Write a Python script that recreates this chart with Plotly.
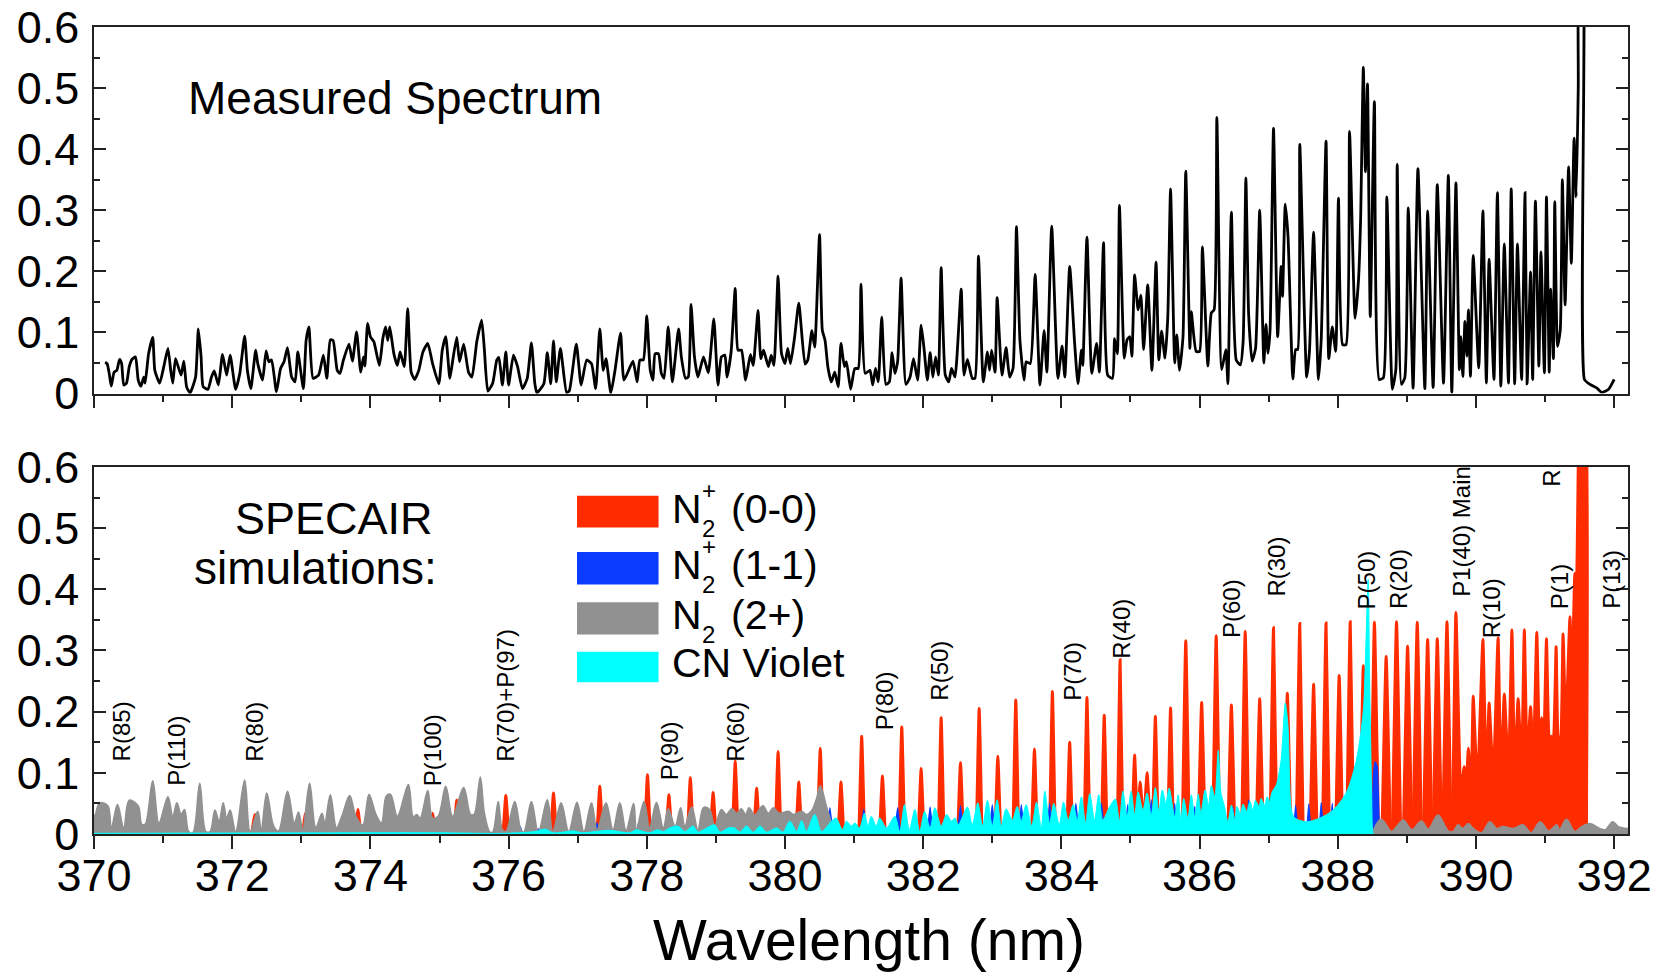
import plotly.graph_objects as go

# (wavelength nm, intensity)
measured = [(370.16,.051),(370.19,.049),(370.22,.033),(370.25,.012),(370.29,.035),(370.33,.038),(370.37,.056),(370.40,.049),(370.43,.014),(370.47,.017),(370.51,.044),(370.55,.056),(370.60,.060),(370.64,.022),(370.68,.012),(370.72,.027),(370.74,.017),(370.79,.065),(370.85,.092),(370.88,.038),(370.95,.017),
(371.01,.044),(371.07,.074),(371.11,.038),(371.14,.017),(371.18,.057),(371.26,.030),(371.30,.053),(371.34,.011),(371.39,.001),(371.47,.027),(371.51,.106),(371.55,.060),(371.58,.011),(371.65,.007),(371.70,.027),(371.74,.037),(371.80,.014),(371.86,.064),(371.92,.030),(371.97,.063),
(372.05,.007),(372.11,.033),(372.18,.094),(372.22,.038),(372.27,.008),(372.34,.071),(372.37,.049),(372.44,.022),(372.49,.070),(372.53,.052),(372.57,.055),(372.64,.003),(372.70,.041),(372.75,.052),(372.80,.075),(372.86,.027),(372.91,.019),(372.95,.068),
(373.03,.008),(373.07,.087),(373.11,.109),(373.17,.025),(373.25,.030),(373.32,.063),(373.37,.025),(373.42,.088),(373.46,.087),(373.52,.038),(373.56,.033),(373.61,.055),(373.69,.081),(373.74,.053),(373.80,.101),(373.86,.035),(373.90,.060),(373.92,.045),(373.96,.115),
(374.00,.093),(374.05,.085),(374.13,.046),(374.18,.090),(374.22,.109),(374.25,.087),(374.28,.109),(374.34,.065),(374.39,.046),(374.43,.068),(374.49,.044),(374.54,.139),(374.59,.035),(374.64,.023),(374.70,.038),(374.76,.068),(374.83,.082),(374.90,.049),(374.99,.016),
(375.04,.071),(375.09,.093),(375.15,.025),(375.19,.053),(375.25,.092),(375.29,.052),(375.35,.081),(375.42,.035),(375.47,.027),(375.54,.085),(375.61,.120),(375.65,.071),(375.70,.004),(375.77,.017),(375.83,.055),(375.86,.059),(375.91,.014),(375.96,.068),
(376.00,.014),(376.07,.063),(376.13,.044),(376.20,.008),(376.27,.025),(376.33,.083),(376.38,.016),(376.41,.001),(376.51,.016),(376.56,.067),(376.61,.016),(376.65,.086),(376.69,.019),(376.75,.074),(376.84,.001),(376.88,.005),(376.98,.081),
(377.05,.014),(377.13,.055),(377.20,.049),(377.26,.008),(377.32,.106),(377.37,.038),(377.41,.057),(377.48,.001),(377.54,.038),(377.62,.099),(377.67,.022),(377.80,.053),(377.86,.019),(377.90,.055),(377.95,.055),
(378.00,.127),(378.05,.038),(378.09,.022),(378.12,.065),(378.17,.065),(378.21,.033),(378.25,.025),(378.31,.109),(378.37,.019),(378.46,.106),(378.50,.060),(378.56,.025),(378.60,.027),(378.64,.146),(378.69,.060),(378.74,.027),(378.82,.060),(378.89,.034),(378.97,.122),
(379.03,.014),(379.08,.060),(379.13,.063),(379.16,.027),(379.22,.068),(379.28,.172),(379.32,.071),(379.37,.071),(379.43,.022),(379.50,.064),(379.54,.046),(379.61,.136),(379.65,.057),(379.69,.071),(379.76,.044),(379.80,.063),(379.84,.046),(379.90,.192),(379.95,.065),
(380.00,.049),(380.04,.074),(380.08,.049),(380.14,.093),(380.20,.148),(380.29,.048),(380.33,.055),(380.39,.103),(380.43,.076),(380.50,.260),(380.54,.104),(380.58,.087),(380.62,.044),(380.67,.019),(380.72,.035),(380.77,.011),(380.81,.082),(380.86,.044),(380.89,.052),(380.95,.007),
(381.01,.041),(381.06,.041),(381.10,.179),(381.16,.033),(381.23,.038),(381.27,.014),(381.31,.041),(381.35,.019),(381.40,.125),(381.46,.015),(381.51,.019),(381.55,.067),(381.59,.033),(381.63,.052),(381.68,.189),(381.75,.015),(381.81,.027),(381.86,.057),(381.92,.022),(381.97,.112),
(382.01,.076),(382.06,.022),(382.10,.067),(382.14,.027),(382.18,.060),(382.22,.030),(382.26,.206),(382.32,.030),(382.37,.019),(382.41,.041),(382.46,.027),(382.55,.171),(382.59,.030),(382.64,.056),(382.71,.025),(382.75,.025),(382.80,.225),(382.87,.019),(382.93,.068),(382.96,.038),(382.99,.071),
(383.04,.035),(383.07,.157),(383.14,.030),(383.20,.075),(383.25,.027),(383.30,.041),(383.35,.273),(383.40,.087),(383.46,.022),(383.49,.052),(383.55,.049),(383.62,.195),(383.69,.014),(383.75,.103),(383.79,.035),(383.86,.274),(383.95,.025),
(384.01,.078),(384.05,.027),(384.12,.208),(384.19,.085),(384.24,.016),(384.29,.071),(384.31,.046),(384.37,.256),(384.44,.033),(384.51,.082),(384.55,.035),(384.61,.247),(384.67,.030),(384.74,.025),(384.77,.090),(384.81,.065),(384.84,.308),(384.91,.058),(384.95,.088),(384.99,.093),
(385.02,.061),(385.06,.194),(385.11,.137),(385.15,.161),(385.19,.072),(385.25,.178),(385.31,.038),(385.37,.215),(385.41,.055),(385.45,.102),(385.50,.058),(385.54,.126),(385.58,.335),(385.64,.050),(385.67,.096),(385.71,.038),(385.76,.093),(385.80,.364),(385.86,.074),(385.88,.134),(385.95,.069),
(386.00,.069),(386.04,.240),(386.12,.045),(386.17,.132),(386.21,.137),(386.25,.452),(386.32,.039),(386.38,.072),(386.41,.016),(386.46,.297),(386.53,.055),(386.59,.047),(386.63,.085),(386.67,.353),(386.71,.129),(386.76,.053),(386.81,.074),(386.87,.300),(386.93,.050),(386.96,.113),(386.99,.066),
(387.02,.104),(387.07,.434),(387.13,.093),(387.18,.208),(387.20,.159),(387.24,.310),(387.28,.257),(387.35,.024),(387.39,.072),(387.42,.072),(387.45,.408),(387.55,.027),(387.59,.069),(387.65,.264),(387.72,.023),(387.76,.088),(387.83,.413),(387.87,.057),(387.92,.109),(387.97,.069),
(388.01,.320),(388.07,.080),(388.12,.080),(388.17,.429),(388.25,.123),(388.30,.186),(388.33,.284),(388.37,.534),(388.40,.363),(388.43,.507),(388.47,.126),(388.53,.478),(388.60,.023),(388.66,.026),(388.71,.322),(388.79,.007),(388.84,.039),(388.86,.375),(388.92,.015),(388.97,.026),
(389.02,.304),(389.09,.009),(389.16,.368),(389.26,.008),(389.30,.299),(389.38,.010),(389.44,.342),(389.53,.017),(389.60,.357),(389.65,.002),(389.71,.345),(389.76,.039),(389.78,.093),(389.81,.028),(389.84,.118),(389.87,.061),(389.89,.137),(389.92,.028),(389.96,.226),
(390.04,.042),(390.10,.299),(390.15,.017),(390.19,.220),(390.26,.023),(390.31,.329),(390.36,.012),(390.41,.245),(390.47,.017),(390.51,.335),(390.56,.016),(390.60,.245),(390.66,.023),(390.71,.329),(390.74,.016),(390.79,.199),(390.82,.023),(390.86,.315),(390.91,.045),(390.94,.232),(390.99,.034),
(391.02,.322),(391.06,.035),(391.08,.171),(391.12,.057),(391.14,.314),(391.18,.077),(391.22,.104),(391.25,.350),(391.29,.145),(391.34,.371),(391.38,.213),(391.42,.418),(391.45,.322),(391.48,.501),(391.50,.72),(391.54,.72),(391.57,.023),(391.65,.015),(391.75,.009),(391.82,.002),(391.92,.007),(392.00,.023)]

n2p_00 = [(372.28,0),(372.33,.032),(372.37,0),(373.02,0),(373.06,.034),(373.10,0),(373.78,0),(373.82,.04),(373.86,0),(374.86,0),(374.90,.034),(374.94,0),(375.21,0),(375.25,.055),(375.29,0),(375.92,0),(375.96,.063),(376.00,0),(376.61,0),(376.65,.067),(376.69,0),(377.28,0),(377.32,.078),(377.36,0),
(377.97,0),(378.01,.097),(378.05,0),(378.28,0),(378.32,.064),(378.36,0),(378.59,0),(378.63,.092),(378.67,0),(378.92,0),(378.96,.068),(379.00,0),(379.24,0),(379.28,.119),(379.32,0),(379.55,0),(379.59,.075),(379.63,0),(379.86,0),(379.90,.135),(379.94,0),(380.16,0),(380.20,.085),(380.24,0),(380.47,0),(380.51,.14),(380.55,0),(380.77,0),(380.81,.085),(380.85,0),
(381.07,0),(381.11,.16),(381.15,0),(381.37,0),(381.41,.095),(381.45,0),(381.65,0),(381.69,.175),(381.73,0),(381.93,0),(381.97,.107),(382.01,0),(382.22,0),(382.26,.19),(382.30,0),(382.50,0),(382.54,.117),(382.58,0),(382.77,0),(382.81,.205),(382.85,0),(383.04,0),(383.08,.127),(383.12,0),(383.30,0),(383.34,.219),(383.38,0),(383.57,0),(383.61,.139),(383.65,0),(383.83,0),(383.87,.233),(383.91,0),(384.08,0),(384.12,.15),(384.16,0),(384.33,0),(384.37,.223),(384.41,0),(384.58,0),(384.62,.194),(384.66,0),(384.81,0),(384.85,.285),(384.89,0),
(385.02,0),(385.06,.129),(385.10,.02),(385.14,.085),(385.19,.02),(385.24,.10),(385.29,0),(385.32,0),(385.36,.192),(385.40,0),(385.54,0),(385.58,.206),(385.62,0),(385.75,0),(385.80,.316),(385.85,0),(385.98,0),(386.03,.215),(386.08,0),(386.19,0),(386.24,.324),(386.29,0),(386.41,0),(386.46,.211),(386.51,0),(386.61,0),(386.66,.331),(386.71,0),(386.82,0),(386.87,.221),(386.92,0),(387.02,0),(387.07,.337),(387.12,0),(387.22,0),(387.27,.23),(387.32,0),(387.40,0),(387.45,.344),(387.50,0),(387.60,0),(387.65,.245),(387.70,0),(387.78,0),(387.83,.345),(387.88,0),(387.97,0),(388.02,.259),(388.07,0),(388.13,0),(388.18,.347),(388.23,0),(388.32,0),(388.37,.275),(388.42,0),(388.48,0),(388.53,.346),(388.59,0),(388.64,0),(388.70,.29),(388.76,0),(388.79,0),(388.85,.347),(388.91,0),(388.95,0),(389.01,.307),(389.07,0),(389.09,0),(389.15,.346),(389.21,0),(389.24,0),(389.30,.318),(389.36,0),(389.38,0),(389.44,.319),(389.50,0),(389.52,0),(389.58,.347),(389.64,0),(389.66,0),
(389.71,.362),(389.78,.07),(389.83,.11),(389.86,.08),(389.89,.14),(389.93,.07),(389.96,.225),(390.02,.075),(390.10,.318),(390.15,.08),(390.19,.214),(390.25,.09),(390.32,.321),(390.36,.09),(390.41,.229),(390.47,.10),(390.52,.334),(390.56,.10),(390.61,.221),(390.66,.11),(390.70,.334),(390.74,.12),(390.79,.208),(390.83,.12),(390.88,.33),(390.92,.13),(390.95,.19),(390.98,.14),(391.02,.319),(391.06,.15),(391.09,.16),(391.12,.15),(391.16,.306),(391.19,.15),(391.21,.154),(391.23,.16),(391.26,.327),(391.30,.17),(391.36,.355),(391.39,.25),(391.43,.426),(391.45,.35),(391.48,.6),(391.50,.72),(391.57,.72),(391.60,.02),(391.61,0)]

n2p_11 = [(376.14,0),(376.17,.012),(376.20,0),(376.40,0),(376.43,.008),(376.46,0),(377.25,0),(377.28,.018),(377.31,0),(377.85,0),(377.88,.018),(377.91,0),(380.61,0),(380.65,.043),(380.69,0),(381.10,0),(381.14,.04),(381.18,0),(381.59,0),(381.63,.043),(381.67,0),(382.06,0),(382.10,.044),(382.14,0),(382.50,0),(382.54,.046),(382.58,0),(382.96,0),(383.00,.048),(383.04,0),(383.38,0),(383.42,.048),(383.46,0),(383.79,0),(383.83,.05),(383.87,0),(384.17,0),(384.21,.05),(384.25,0),(384.54,0),(384.58,.05),(384.62,0),(384.92,0),(384.96,.048),(385.00,0),(385.27,0),(385.30,.056),(385.33,0),(385.61,0),(385.64,.05),(385.67,0),(385.90,0),(385.93,.045),(385.96,0),(386.45,0),(386.48,.045),(386.51,0),(386.68,0),(386.71,.056),(386.74,0),(387.36,0),(387.39,.047),(387.42,0),(387.55,0),(387.58,.049),(387.61,0),(387.73,0),(387.76,.051),(387.79,0),(387.89,0),(387.92,.05),(387.95,0),(388.49,0),(388.52,.10),(388.54,.118),(388.57,.11),(388.60,.01),(388.62,0)]

n2_2plus = [(370.00,.03),(370.02,.032),(370.08,.051),(370.20,.046),(370.25,.010),(370.34,.048),(370.43,.010),(370.51,.055),(370.64,.046),(370.69,.016),(370.74,.016),(370.85,.087),(370.94,.018),(371.07,.061),(371.14,.029),(371.20,.051),(371.26,.032),(371.31,.040),(371.37,.004),(371.43,.002),(371.53,.083),(371.62,.004),(371.68,.004),(371.75,.039),(371.81,.021),(371.87,.051),(371.92,.026),(371.97,.039),(372.05,.004),(372.18,.088),(372.26,.004),(372.37,.037),(372.42,.007),(372.50,.067),(372.60,.013),(372.67,.005),(372.80,.070),(372.90,.018),(372.96,.036),(373.02,.007),(373.12,.083),(373.21,.011),(373.30,.034),(373.34,.018),(373.42,.064),(373.51,.010),(373.59,.030),(373.70,.063),(373.79,.029),(373.89,.015),(373.98,.065),(374.08,.032),(374.16,.018),(374.23,.062),(374.29,.065),(374.39,.029),(374.55,.081),(374.62,.028),(374.67,.032),(374.72,.026),(374.83,.071),(374.90,.026),(374.98,.029),(375.09,.078),(375.19,.029),(375.35,.076),(375.45,.032),(375.50,.032),(375.59,.093),(375.65,.034),(375.73,.003),(375.77,.003),(375.85,.053),(375.91,.007),(375.96,.004),(376.09,.053),(376.18,.006),(376.22,.003),(376.33,.053),(376.43,.003),(376.56,.056),(376.64,.004),(376.76,.051),(376.87,.004),(376.99,.052),(377.09,.004),(377.20,.051),(377.28,.007),(377.41,.051),(377.51,.007),(377.61,.051),(377.70,.006),(377.81,.050),(377.85,.007),(377.96,.053),(378.04,.010),(378.14,.052),(378.24,.010),(378.31,.041),(378.41,.013),(378.49,.043),(378.55,.013),(378.65,.044),(378.74,.007),(378.82,.043),(378.91,.040),(378.98,.013),(379.08,.040),(379.15,.032),(379.23,.041),(379.30,.034),(379.37,.041),(379.43,.032),(379.48,.043),(379.56,.031),(379.68,.046),(379.76,.034),(379.83,.043),(379.92,.034),(380.05,.037),(380.12,.032),(380.24,.037),(380.31,.032),(380.38,.037),(380.46,.059),(380.51,.079),(380.60,.045),(380.67,.018),(380.72,0),(388.51,0),(388.52,.007),(388.63,.024),(388.78,.004),(388.85,.012),(388.95,.023),(389.07,.007),(389.21,.021),(389.31,.008),(389.45,.031),(389.60,.005),(389.67,.004),(389.74,.015),(389.81,.009),(389.89,.017),(389.96,.009),(390.08,.002),(390.20,.020),(390.30,.009),(390.39,.012),(390.54,.009),(390.68,.015),(390.80,.002),(390.93,.020),(391.05,.005),(391.17,.015),(391.21,.007),(391.31,.024),(391.43,.004),(391.53,.012),(391.65,.017),(391.79,.009),(391.87,.007),(391.98,.020),(392.06,.012),(392.20,.009)]

cn_violet = [(370.0,.001),(375.0,.002),(375.9,.001),(376.38,.004),(376.53,.008),(376.64,.002),(376.95,.005),(377.05,.002),(377.46,.006),(377.75,.002),(377.85,.007),(377.95,.004),(378.04,.002),(378.16,.007),(378.24,.004),(378.33,.010),(378.45,.013),(378.55,.004),(378.67,.013),(378.74,.003),(378.82,.007),(378.98,.015),(379.06,.003),(379.18,.010),(379.27,.010),(379.35,.003),(379.44,.013),(379.54,.003),(379.64,.013),(379.73,.003),(379.88,.010),(379.97,.003),(380.07,.021),(380.17,.004),(380.24,.022),(380.31,.004),(380.43,.032),(380.53,.004),(380.67,.021),(380.74,.026),(380.83,.007),(380.89,.021),(380.96,.013),(381.01,.018),(381.08,.010),(381.15,.034),(381.20,.013),(381.25,.029),(381.32,.013),(381.37,.026),(381.47,.010),(381.59,.029),(381.66,.004),(381.73,.048),(381.80,.007),(381.88,.040),(381.95,.004),(382.02,.037),(382.10,.010),(382.17,.043),(382.26,.013),(382.34,.032),(382.41,.021),(382.46,.026),(382.51,.015),(382.64,.044),(382.71,.015),(382.79,.051),(382.86,.013),(382.93,.055),(383.00,.013),(383.07,.056),(383.13,.013),(383.20,.041),(383.29,.023),(383.36,.045),(383.42,.021),(383.49,.048),(383.57,.013),(383.64,.052),(383.71,.010),(383.76,.070),(383.83,.018),(383.89,.050),(383.97,.015),(384.03,.052),(384.10,.023),(384.17,.048),(384.23,.023),(384.29,.061),(384.35,.018),(384.41,.066),(384.48,.023),(384.54,.064),(384.60,.023),(384.70,.045),(384.78,.057),(384.84,.021),(384.89,.070),(384.95,.029),(385.01,.070),(385.06,.031),(385.11,.069),(385.18,.039),(385.24,.067),(385.30,.031),(385.36,.076),(385.41,.037),(385.46,.072),(385.51,.050),(385.56,.075),(385.64,.028),(385.69,.064),(385.73,.023),(385.77,.058),(385.83,.026),(385.88,.064),(385.93,.028),(385.98,.065),(386.02,.034),(386.08,.072),(386.13,.047),(386.17,.079),(386.22,.061),(386.27,.137),(386.31,.067),(386.36,.045),(386.41,.020),(386.46,.047),(386.51,.023),(386.54,.045),(386.59,.034),(386.63,.049),(386.68,.037),(386.73,.053),(386.77,.039),(386.81,.055),(386.86,.045),(386.89,.058),(386.94,.047),(386.98,.061),(387.01,.053),(387.05,.069),(387.11,.080),(387.18,.121),(387.24,.214),(387.28,.176),(387.33,.039),(387.38,.026),(387.55,.020),(387.74,.026),(387.93,.039),(388.12,.067),(388.27,.121),(388.37,.203),(388.40,.285),(388.44,.416),(388.46,.257),(388.49,.067),(388.50,.012),(388.51,0)]

band_names = ["(0-0)", "(1-1)", "(2+)", "CN Violet"]
band_colors = ["#FF2C00", "#0A3CFF", "#919191", "#00FFFF"]
band_widths = [3, 1.5, 1.6, 1]
band_smooth = [0.4, 0.4, 1.0, 0.8]

y_ticks = [0, .1, .2, .3, .4, .5, .6]
y_labels = ["0", "0.1", "0.2", "0.3", "0.4", "0.5", "0.6"]
x_ticks = list(range(370, 393, 2))

line_labels = ["R(85)", "P(110)", "R(80)", "P(100)", "R(70)+P(97)", "P(90)", "R(60)", "P(80)", "R(50)", "P(70)", "R(40)", "P(60)", "R(30)", "P(50)", "R(20)", "P1(40) Main", "R(10)", "P(1)", "P(13)", "R"]
label_wl = [370.39, 371.20, 372.32, 374.91, 375.96, 378.34, 379.28, 381.44, 382.24, 384.16, 384.87, 386.47, 387.11, 388.42, 388.87, 389.79, 390.23, 391.21, 391.97, 391.10]
label_v = [.117, .077, .117, .077, .117, .086, .117, .168, .216, .216, .284, .318, .387, .366, .366, .386, .318, .366, .366, .567]

FONT = "Liberation Sans"
fig = go.Figure()


def xy(pairs):
    """Split into x and y; a run along the baseline becomes a gap, so no outline is drawn there."""
    xs, ys = [], []
    for i, (a, b) in enumerate(pairs):
        if i and b == 0 and pairs[i - 1][1] == 0:
            xs.append(None)
            ys.append(None)
        xs.append(a)
        ys.append(b)
    return xs, ys


x, y = xy(measured)
fig.add_trace(go.Scatter(x=x, y=y, mode="lines", line=dict(color="black", width=2.8, shape="spline", smoothing=0.5), xaxis="x", yaxis="y", showlegend=False))
for pairs, col, nm, w, s in zip([n2p_00, n2p_11, n2_2plus, cn_violet], band_colors, band_names, band_widths, band_smooth):
    x, y = xy(pairs)
    fig.add_trace(go.Scatter(x=x, y=y, mode="lines", line=dict(color=col, width=w, shape="spline", smoothing=s), fill="tozeroy", fillcolor=col, xaxis="x2", yaxis="y2", name=nm, showlegend=False))

ax_line = dict(showline=True, linecolor="#222222", linewidth=1.6, showgrid=False, zeroline=False)
xcommon = dict(range=[370, 392.2], tickmode="array", tickvals=x_ticks, ticks="outside", ticklen=13, tickwidth=1.5, tickcolor="#222222", mirror=True,
               minor=dict(dtick=1, tick0=370, ticks="outside", ticklen=7, tickwidth=1.5, tickcolor="#222222"), **ax_line)
ycommon = dict(range=[0, .6], tickmode="array", tickvals=y_ticks, ticktext=y_labels, ticks="inside", ticklen=12, tickwidth=1.5, tickcolor="#222222", mirror="ticks",
               minor=dict(tickvals=[.05, .15, .25, .35, .45, .55], ticks="inside", ticklen=6, tickwidth=1.5, tickcolor="#222222"),
               tickfont=dict(family=FONT, size=45, color="black"), ticklabelstandoff=4, ticklabeloverflow="allow", **ax_line)

fig.update_layout(
    width=1664, height=965, margin=dict(l=86, r=44, t=19, b=139, autoexpand=False), plot_bgcolor="white", paper_bgcolor="white",
    font=dict(family=FONT, color="black"),
    xaxis=dict(domain=[0, 1], anchor="y", showticklabels=False, **xcommon),
    yaxis=dict(domain=[.5458, 1], anchor="x", **ycommon),
    xaxis2=dict(domain=[0, 1], anchor="y2", ticktext=[str(v) for v in x_ticks], tickfont=dict(family=FONT, size=45, color="black"), ticklabelstandoff=-12, ticklabeloverflow="allow", **xcommon),
    yaxis2=dict(domain=[0, .4548], anchor="x2", **ycommon),
)

# rotated rovibrational line labels
for t, w, v in zip(line_labels, label_wl, label_v):
    fig.add_annotation(x=w, y=v, xref="x2", yref="y2", text=t, textangle=-90, showarrow=False, xanchor="center", yanchor="bottom", font=dict(size=24), borderpad=0)

fig.add_annotation(x=371.33, y=.4845, xref="x", yref="y", text="Measured Spectrum", showarrow=False, xanchor="left", font=dict(size=46))
fig.add_annotation(x=374.93, y=.515, xref="x2", yref="y2", text="SPECAIR", showarrow=False, xanchor="right", font=dict(size=45))
fig.add_annotation(x=374.99, y=.435, xref="x2", yref="y2", text="simulations:", showarrow=False, xanchor="right", font=dict(size=46))
fig.add_annotation(x=381.22, y=-.174, xref="x2", yref="paper", text="Wavelength (nm)", showarrow=False, font=dict(size=57))

# legend built from swatches and text
swatch_v = [(.501, .553), (.408, .461), (.326, .379), (.248, .298)]
for (lo, hi), col in zip(swatch_v, band_colors):
    fig.add_shape(type="rect", x0=376.99, x1=378.17, y0=lo, y1=hi, xref="x2", yref="y2", fillcolor=col, line_width=0, layer="above")

legend_v = [.532, .440, .358]
has_plus = [True, True, False]
for v, plus, nm in zip(legend_v, has_plus, band_names[:3]):
    fig.add_annotation(x=378.34, y=v, xref="x2", yref="y2", text="N", showarrow=False, xanchor="left", font=dict(size=41))
    fig.add_annotation(x=378.90, y=v - .032, xref="x2", yref="y2", text="2", showarrow=False, font=dict(size=24))
    if plus:
        fig.add_annotation(x=378.90, y=v + .03, xref="x2", yref="y2", text="+", showarrow=False, font=dict(size=24))
    fig.add_annotation(x=379.19, y=v, xref="x2", yref="y2", text=nm, showarrow=False, xanchor="left", font=dict(size=41))
fig.add_annotation(x=378.34, y=.28, xref="x2", yref="y2", text=band_names[3], showarrow=False, xanchor="left", font=dict(size=41))

fig.write_html("out.html")
